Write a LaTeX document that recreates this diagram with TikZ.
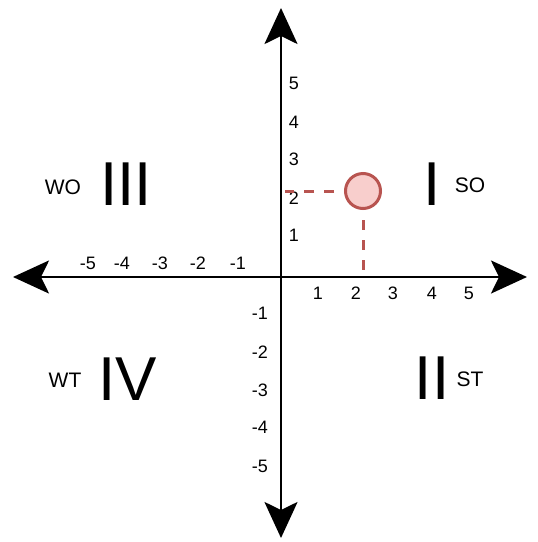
\documentclass[tikz,border=0pt]{standalone}
\usepackage{fontspec}
\setmainfont{Liberation Sans}
\usetikzlibrary{arrows.meta}
\definecolor{PtRed}{HTML}{B85450}
\definecolor{PtPink}{HTML}{F8CECC}
\begin{document}
\begin{tikzpicture}[x=1pt,y=-1pt,
    ax/.style={{Stealth[length=36pt,width=33pt,inset=8pt]}-{Stealth[length=36pt,width=33pt,inset=8pt]},line width=2.5pt},
    tk/.style={font=\fontsize{18pt}{20pt}\selectfont,inner sep=0pt},
    qd/.style={font=\fontsize{62pt}{64pt}\selectfont,inner sep=0pt},
    lb/.style={font=\fontsize{21pt}{23pt}\selectfont,inner sep=0pt},
    gd/.style={color=PtRed,line width=3pt,dash pattern=on 10pt off 10pt,dash phase=10pt}]
  \useasboundingbox (0,0) rectangle (538,542);
  % axes
  \coordinate (xl) at (13,277);
  \coordinate (xr) at (527,277);
  \coordinate (yt) at (281,8);
  \coordinate (yb) at (281,538);
  \draw[ax] (xl) -- (xr);
  \draw[ax] (yb) -- (yt);
  % tick labels
  \foreach \v/\p in {1/318,2/356,3/393,4/432,5/469}{\node[tk] (xp\v) at (\p,293) {\v};}
  \foreach \v/\p in {1/238,2/198,3/160,4/122,5/88}{\node[tk] (xn\v) at (\p,263) {-\v};}
  \foreach \v/\p in {1/235,2/198,3/159,4/122,5/83}{\node[tk] (yp\v) at (294,\p) {\v};}
  \foreach \v/\p in {1/313,2/352,3/390,4/427,5/466}{\node[tk] (yn\v) at (260,\p) {-\v};}
  % quadrants
  \node[qd] (q1) at (432,184) {I};
  \node[qd] (q2) at (432,378) {II};
  \node[qd] (q3) at (126,184) {III};
  \node[qd] (q4) at (128,379) {IV};
  \node[lb] (so) at (470,185) {SO};
  \node[lb] (st) at (470,379) {ST};
  \node[lb] (wo) at (63,187) {WO};
  \node[lb] (wt) at (65,380) {WT};
  % point
  \node[circle,draw=PtRed,fill=PtPink,line width=3pt,minimum size=35pt,inner sep=0pt] (pt) at (363,191) {};
  \coordinate (px) at (285,191);
  \coordinate (py) at (363,276);
  \draw[gd] (pt.west) -- (px);
  \draw[gd] (pt.south) -- (py);
\end{tikzpicture}
\end{document}
